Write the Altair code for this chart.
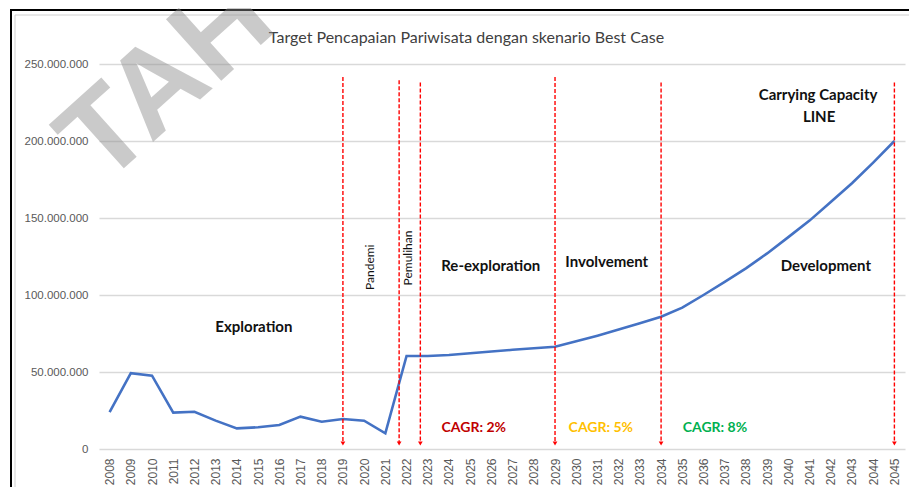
import altair as alt
import pandas as pd

# ---------------- data ----------------
years = list(range(2008, 2046))
visitors_mio = [24.0, 49.2, 47.6, 23.6, 24.2, 18.4, 13.4, 14.1, 15.6, 21.0,
                17.7, 19.5, 18.4, 10.2, 60.4, 60.4, 61.0, 62.2, 63.3, 64.4,
                65.4, 66.4, 69.9, 73.6, 77.6, 81.6, 85.9, 91.8, 100.0, 108.5,
                117.3, 127.0, 137.6, 148.3, 160.4, 172.6, 186.0, 200.0]

phase_x = [2019, 2021.65, 2022.65, 2029, 2034, 2045]
phase_top_mio = [241.5, 239.5, 238.0, 241.5, 238.0, 238.0]

stage_text = ["Exploration", "Re-exploration", "Involvement", "Development",
              "Carrying Capacity", "LINE"]
stage_x = [2014.8, 2025.97, 2031.44, 2041.77, 2041.4, 2041.45]
stage_y_mio = [79.2, 118.8, 121.4, 118.8, 229.9, 215.6]

event_text = ["Pandemi", "Pemulihan"]
event_x = [2020.26, 2022.06]
event_y_mio = [118.0, 124.0]

cagr_text = ["CAGR: 2%", "CAGR: 5%", "CAGR: 8%"]
cagr_x = [2025.17, 2031.16, 2036.54]
cagr_y_mio = [13.6, 13.8, 13.8]
cagr_color = ["#C00000", "#FFC000", "#00B050"]

title_text = "Target Pencapaian Pariwisata dengan skenario Best Case"
y_ticks = [0, 50e6, 100e6, 150e6, 200e6, 250e6]

# ---------------- frames ----------------
line_df = pd.DataFrame({"year": years, "value": [v * 1e6 for v in visitors_mio]})
phase_df = pd.DataFrame({"year": phase_x,
                         "value": [v * 1e6 for v in phase_top_mio],
                         "bottom": [4.5e6] * len(phase_x),
                         "arrow": [3.6e6] * len(phase_x)})
stage_df = pd.DataFrame({"year": stage_x, "value": [v * 1e6 for v in stage_y_mio],
                         "label": stage_text})
event_df = pd.DataFrame({"year": event_x, "value": [v * 1e6 for v in event_y_mio],
                         "label": event_text})
cagr_df = pd.DataFrame({"year": cagr_x, "value": [v * 1e6 for v in cagr_y_mio],
                        "label": cagr_text, "color": cagr_color})
one = pd.DataFrame({"a": [0]})

xscale = alt.Scale(domain=[2007.5, 2045.5], nice=False, zero=False)
yscale = alt.Scale(domain=[0, 250e6], nice=False)

x_axis = alt.Axis(values=years, format="d", labelAngle=270, grid=False,
                  ticks=False, domain=False, labelPadding=9,
                  labelOverlap=False, labelFontSize=12,
                  labelColor="#595959", labelFont="Liberation Sans", title=None)
y_axis = alt.Axis(values=y_ticks,
                  labelExpr="replace(format(datum.value, ','), /,/g, '.')",
                  grid=True, gridColor="#d9d9d9", gridWidth=1.5,
                  ticks=False, domain=False, labelPadding=11,
                  labelFontSize=11.5, labelColor="#595959",
                  labelFont="Liberation Sans", title=None)

X = alt.X("year:Q", scale=xscale, axis=x_axis)
Y = alt.Y("value:Q", scale=yscale, axis=y_axis)

frame_outer = alt.Chart(one).mark_rect(fill="white", fillOpacity=0, stroke="black",
                                       strokeWidth=2).encode(
    x=alt.value(-88), x2=alt.value(1000), y=alt.value(-54), y2=alt.value(600))
frame_inner = alt.Chart(one).mark_rect(fill="white", fillOpacity=0, stroke="#d0d0d0",
                                       strokeWidth=1).encode(
    x=alt.value(-84), x2=alt.value(1000), y=alt.value(-49), y2=alt.value(600))

line = alt.Chart(line_df).mark_line(color="#4472C4", strokeWidth=2.6).encode(
    x=X, y=Y)

rules = alt.Chart(phase_df).mark_rule(color="#FF0000", strokeWidth=1.4,
                                      strokeDash=[4, 2]).encode(
    x=X, y=Y, y2="bottom:Q")
arrows = alt.Chart(phase_df).mark_point(shape="triangle-down", filled=True,
                                        color="#FF0000", size=22, opacity=1).encode(
    x=X, y=alt.Y("arrow:Q", scale=yscale, axis=y_axis))

stages = alt.Chart(stage_df).mark_text(font="Lato", fontWeight="bold", fontSize=15,
                                       color="#111111", align="center",
                                       baseline="middle").encode(
    x=X, y=Y, text="label:N")
events = alt.Chart(event_df).mark_text(font="Lato", fontSize=12, color="#111111",
                                       angle=270, align="center",
                                       baseline="middle").encode(
    x=X, y=Y, text="label:N")
cagr = alt.Chart(cagr_df).mark_text(font="Lato", fontWeight="bold", fontSize=14,
                                    align="center", baseline="middle").encode(
    x=X, y=Y, text="label:N",
    color=alt.Color("color:N", scale=None))

title = alt.Chart(one).mark_text(text=title_text, font="Lato", fontSize=16,
                                 color="#404040", align="center",
                                 baseline="middle").encode(
    x=alt.value(367.5), y=alt.value(-26))

watermark = alt.Chart(one).mark_text(text="TAH", font="Liberation Sans",
                                     fontWeight="bold", fontSize=120,
                                     color="#8c8c8c", opacity=0.45, angle=318,
                                     align="left", baseline="alphabetic").encode(
    x=alt.value(4), y=alt.value(123))

chart = alt.layer(frame_outer, frame_inner, line, rules, arrows, stages, events,
                  cagr, title, watermark).properties(
    width=806, height=385,
    autosize=alt.AutoSizeParams(type="none"),
    padding={"left": 91, "top": 56, "right": 4, "bottom": 38},
).configure_view(stroke=None)

chart.save("out.html", embed_options={"renderer": "svg", "actions": False})
